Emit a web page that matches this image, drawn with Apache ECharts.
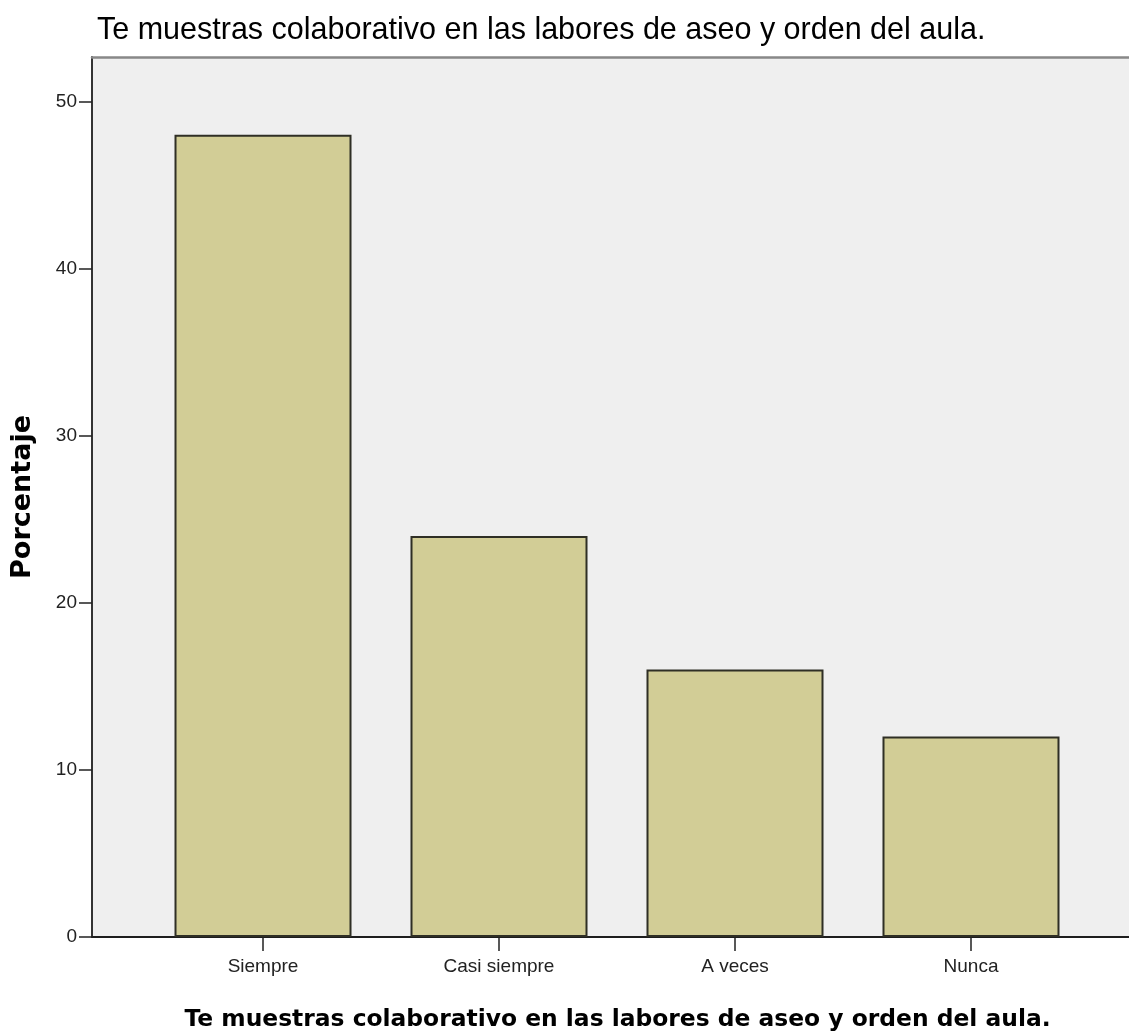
<!DOCTYPE html>
<html>
<head>
<meta charset="utf-8">
<script src="https://cdn.jsdelivr.net/npm/echarts@6/dist/echarts.min.js"></script>
<style>
  html, body { margin: 0; padding: 0; background: #ffffff; }
  #chart { width: 1129px; height: 1034px; }
</style>
</head>
<body>
<div id="chart"></div>
<script>
const categories = ['Siempre', 'Casi siempre', 'A veces', 'Nunca'];
const percentages = [48, 24, 16, 12];
const yTicks = [0, 10, 20, 30, 40, 50];
const titleText = 'Te muestras colaborativo en las labores de aseo y orden del aula.';
const xAxisTitle = 'Te muestras colaborativo en las labores de aseo y orden del aula.';
const yAxisTitle = 'Porcentaje';

const categoryIndex = categories.map((c, i) => i);
const X_MIN = -0.7246, X_MAX = 3.6695;

const chart = echarts.init(document.getElementById('chart'), null, { renderer: 'canvas' });
chart.setOption({
  animation: false,
  backgroundColor: '#ffffff',
  title: {
    text: titleText,
    left: 92,
    top: 10,
    textStyle: { fontFamily: 'Liberation Sans', fontSize: 30.5, fontWeight: 'normal', color: '#000000' }
  },
  grid: {
    left: 92, top: 57, bottom: 97, right: 0,
    outerBoundsMode: 'none',
    containLabel: false,
    show: true,
    backgroundColor: '#efefef',
    borderWidth: 0
  },
  xAxis: [{
    type: 'value',
    position: 'bottom',
    min: X_MIN,
    max: X_MAX,
    name: xAxisTitle,
    nameLocation: 'middle',
    nameGap: 71,
    nameTextStyle: { fontFamily: 'DejaVu Sans', fontWeight: 'bold', fontSize: 23.4, color: '#000000', padding: [0, 0, 0, 14] },
    axisLine: { show: true, onZero: false, lineStyle: { color: '#1e1e1e', width: 1.8 } },
    axisTick: { show: true, customValues: categoryIndex, length: 14, lineStyle: { color: '#222222', width: 1.5 } },
    axisLabel: {
      customValues: categoryIndex,
      formatter: v => categories[Math.round(v)] || '',
      fontFamily: 'Liberation Sans', fontSize: 19, color: '#222222', margin: 20
    },
    splitLine: { show: false }
  }, {
    type: 'value',
    position: 'top',
    min: X_MIN,
    max: X_MAX,
    axisLine: { show: true, onZero: false, lineStyle: { color: '#888888', width: 2.5 } },
    axisTick: { show: false },
    axisLabel: { show: false },
    splitLine: { show: false }
  }],
  yAxis: {
    type: 'value',
    min: 0,
    max: 52.66,
    name: yAxisTitle,
    nameLocation: 'middle',
    nameGap: 56,
    nameTextStyle: { fontFamily: 'DejaVu Sans', fontWeight: 'bold', fontSize: 27, color: '#000000' },
    axisLine: { show: true, onZero: false, lineStyle: { color: '#1e1e1e', width: 1.8 } },
    axisTick: { show: true, customValues: yTicks, length: 13, lineStyle: { color: '#222222', width: 1.5 } },
    axisLabel: {
      customValues: yTicks,
      fontFamily: 'Liberation Sans', fontSize: 19, color: '#222222', margin: 15
    },
    splitLine: { show: false }
  },
  series: [{
    type: 'bar',
    xAxisIndex: 0,
    data: percentages.map((v, i) => [categoryIndex[i], v]),
    barWidth: 177,
    itemStyle: { color: '#d2cd96', borderColor: '#2f2f25', borderWidth: 2 }
  }]
});
</script>
</body>
</html>
